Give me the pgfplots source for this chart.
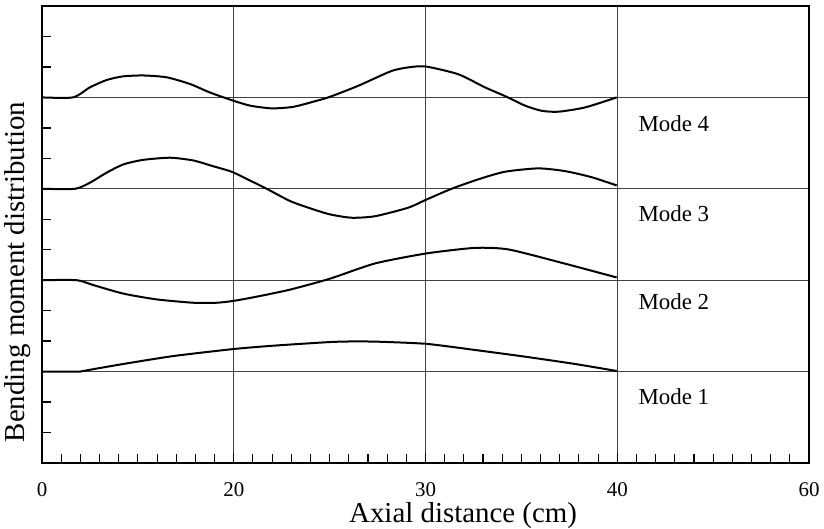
\documentclass[border=0pt]{standalone}
\usepackage{fontspec}
\setmainfont{Liberation Serif}
\usepackage{pgfplots}
\pgfplotsset{compat=1.18}
\begin{document}
\begin{tikzpicture}
\useasboundingbox (-42bp,-66bp) rectangle (782bp,463bp);
\begin{axis}[
  at={(0,0)}, anchor=south west,
  scale only axis, width=767bp, height=457bp,
  xmin=0, xmax=40, ymin=0, ymax=15,
  xtick={0,10,20,30,40}, xticklabels={0,20,30,40,60},
  minor x tick num=9,
  ytick={3,6,9,12}, minor ytick={1,2,4,5,7,8,10,11,13,14},
  yticklabels={},
  tick pos=left, tick align=inside,
  major tick length=10bp, minor tick length=9bp,
  every tick/.style={black, line width=1.1bp},
  minor y tick style={line width=1.4bp},
  xmajorgrids, ymajorgrids,
  grid style={black!75, line width=0.6bp},
  axis line style={line width=1.7bp},
  /pgf/number format/assume math mode=true,
  xticklabel style={font=\fontsize{21}{25}\selectfont, yshift=-16bp},
  xlabel={Axial distance (cm)},
  ylabel={Bending moment distribution},
  xlabel style={font=\fontsize{29}{33}\selectfont, at={(rel axis cs:0.549,0)}, anchor=center, yshift=-53bp},
  ylabel style={font=\fontsize{29}{33}\selectfont, at={(axis description cs:-0.032,0.418)}, anchor=center},
  clip=false,
]
% Mode 1
\addplot[black, line width=2bp, smooth, tension=0.4, mark=none] coordinates {(0,3) (1.98,3) (2.5,3.06) (4.24,3.25) (6.85,3.51) (9.98,3.74) (12.06,3.85) (15.02,3.97) (16.3,3.99) (17.6,3.98) (20.06,3.91) (22.58,3.71) (25.19,3.49) (27.8,3.25) (29.97,3.02)};
% Mode 2
\addplot[black, line width=2bp, smooth, tension=0.4, mark=none] coordinates {(0,6) (1.81,6) (2.68,5.84) (4.24,5.56) (5.98,5.37) (7.89,5.26) (9.11,5.26) (9.98,5.32) (11.2,5.46) (12.93,5.69) (15.02,6.05) (17.37,6.55) (20.06,6.88) (22.58,7.06) (24.32,7.01) (26.93,6.60) (29.97,6.09)};
% Mode 3
\addplot[black, line width=2bp, smooth, tension=0.4, mark=none] coordinates {(0,9) (1.72,9) (2.5,9.2) (3.37,9.53) (4.24,9.8) (5.28,9.95) (6.68,10.02) (7.89,9.93) (8.93,9.74) (9.89,9.56) (10.85,9.27) (11.72,9) (12.93,8.6) (13.98,8.36) (15.02,8.16) (16.15,8.05) (17.37,8.1) (19.1,8.38) (20.06,8.65) (21.36,9) (22.75,9.31) (24.14,9.56) (25.88,9.67) (27.28,9.58) (28.67,9.38) (29.97,9.11)};
% Mode 4
\addplot[black, line width=2bp, smooth, tension=0.4, mark=none] coordinates {(0,12) (1.62,12) (2.5,12.33) (3.37,12.57) (4.22,12.69) (5.28,12.72) (6.5,12.66) (7.72,12.44) (8.76,12.16) (9.89,11.91) (10.85,11.73) (11.98,11.64) (13.1,11.69) (14.33,11.89) (15.02,12.02) (16.49,12.38) (18.24,12.87) (19.28,13.0) (20.06,13.01) (21.71,12.76) (23.1,12.33) (24.23,12.02) (25.19,11.73) (26.06,11.56) (26.93,11.53) (28.32,11.67) (29.97,12)};
\node[anchor=west, font=\fontsize{23}{27}\selectfont, inner sep=0pt] at (axis cs:31.1,11.13) {Mode 4};
\node[anchor=west, font=\fontsize{23}{27}\selectfont, inner sep=0pt] at (axis cs:31.1,8.2) {Mode 3};
\node[anchor=west, font=\fontsize{23}{27}\selectfont, inner sep=0pt] at (axis cs:31.1,5.28) {Mode 2};
\node[anchor=west, font=\fontsize{23}{27}\selectfont, inner sep=0pt] at (axis cs:31.1,2.17) {Mode 1};
\end{axis}
\end{tikzpicture}
\end{document}
